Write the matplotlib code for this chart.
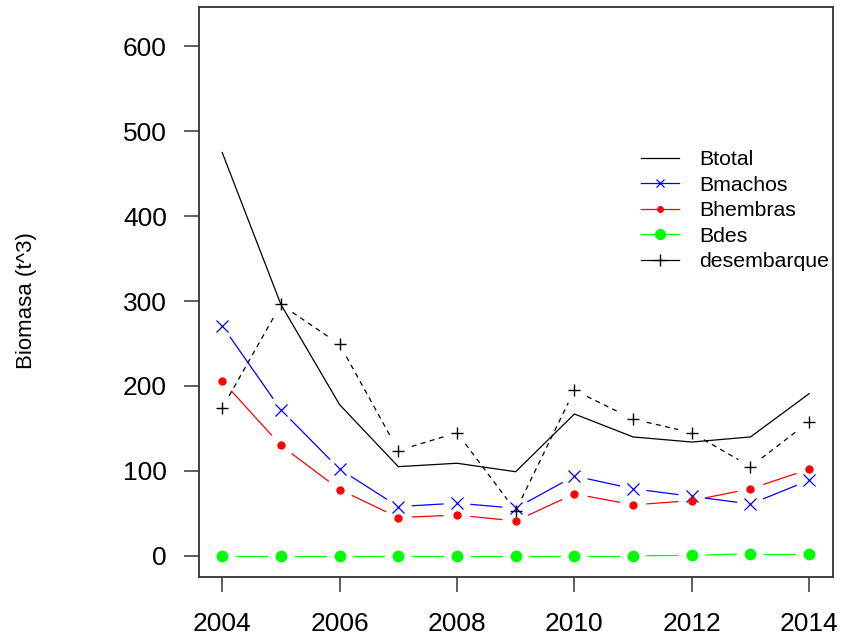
import numpy as np
import matplotlib
matplotlib.use("Agg")
import matplotlib.pyplot as plt
from matplotlib.lines import Line2D

plt.rcParams['font.family'] = ['Liberation Sans', 'DejaVu Sans']

years = [2004, 2005, 2006, 2007, 2008, 2009, 2010, 2011, 2012, 2013, 2014]
btotal = [475, 296, 178, 105, 109, 99, 167, 140, 134, 140, 191]
bmachos = [271, 172, 102, 58, 62, 56, 94, 79, 70, 61, 89]
bhembras = [206, 130, 78, 45, 48, 41, 73, 60, 65, 79, 102]
bdes = [0, 0, 0, 0, 0, 0, 0, 0, 0.5, 2.5, 2.5]
desembarque = [174, 296, 249, 124, 145, 53, 195, 161, 145, 105, 158]

fig = plt.figure(figsize=(8.41, 6.41), dpi=100)
ax = fig.add_axes([0.2363, 0.0998, 0.7538, 0.8888])
ax.set_xlim(2003.6, 2014.4)
ax.set_ylim(-25, 646)


def gapped(x, y, gap=14, **kw):
    # R type="b": segments stop short of the points
    pts = ax.transData.transform(np.column_stack([x, y]))
    inv = ax.transData.inverted()
    for p0, p1 in zip(pts[:-1], pts[1:]):
        d = p1 - p0
        L = np.hypot(*d)
        if L <= 2 * gap:
            continue
        u = d / L
        a, b = inv.transform(np.array([p0 + u * gap, p1 - u * gap]))
        ax.plot([a[0], b[0]], [a[1], b[1]], **kw)


# Btotal: plain line
ax.plot(years, btotal, color='black', lw=0.9)

# Bmachos
gapped(years, bmachos, color='blue', lw=0.9)
ax.plot(years, bmachos, ls='none', marker='x', ms=8.5, mew=0.9, color='blue')

# Bhembras
gapped(years, bhembras, color='red', lw=0.9)
ax.plot(years, bhembras, ls='none', marker='o', ms=5, color='red')

# Bdes
gapped(years, bdes, color='#00FF00', lw=0.9)
ax.plot(years, bdes, ls='none', marker='o', ms=7.5, color='#00FF00')

# desembarque
gapped(years, desembarque, color='black', lw=0.9, dashes=(4, 3.5))
ax.plot(years, desembarque, ls='none', marker='+', ms=8, mew=1.0, color='black')

ax.set_xticks([2004, 2006, 2008, 2010, 2012, 2014])
ax.set_yticks([0, 100, 200, 300, 400, 500, 600])
ax.tick_params(labelsize=19, length=11, width=1.1, color='#333333', pad=12)
ax.tick_params(axis='x', pad=14)
for s in ax.spines.values():
    s.set_linewidth(1.3)
    s.set_color('#333333')
ax.set_ylabel('Biomasa (t^3)', fontsize=16)
ax.yaxis.set_label_coords(-0.255, 0.485)

handles = [
    Line2D([], [], color='black', lw=0.9),
    Line2D([], [], color='blue', lw=0.9, marker='x', ms=6, mew=0.9),
    Line2D([], [], color='red', lw=0.9, marker='o', ms=4),
    Line2D([], [], color='#00FF00', lw=0.9, marker='o', ms=7),
    Line2D([], [], color='black', lw=0.9, marker='+', ms=8),
]
labels = ['Btotal', 'Bmachos', 'Bhembras', 'Bdes', 'desembarque']
ax.legend(handles, labels, loc='upper left', bbox_to_anchor=(0.762, 0.766),
          bbox_transform=fig.transFigure, frameon=False, fontsize=15.3,
          handlelength=1.8, handletextpad=0.95, labelspacing=0.31,
          borderpad=0, borderaxespad=0)

fig.savefig('out.png', dpi=100)
